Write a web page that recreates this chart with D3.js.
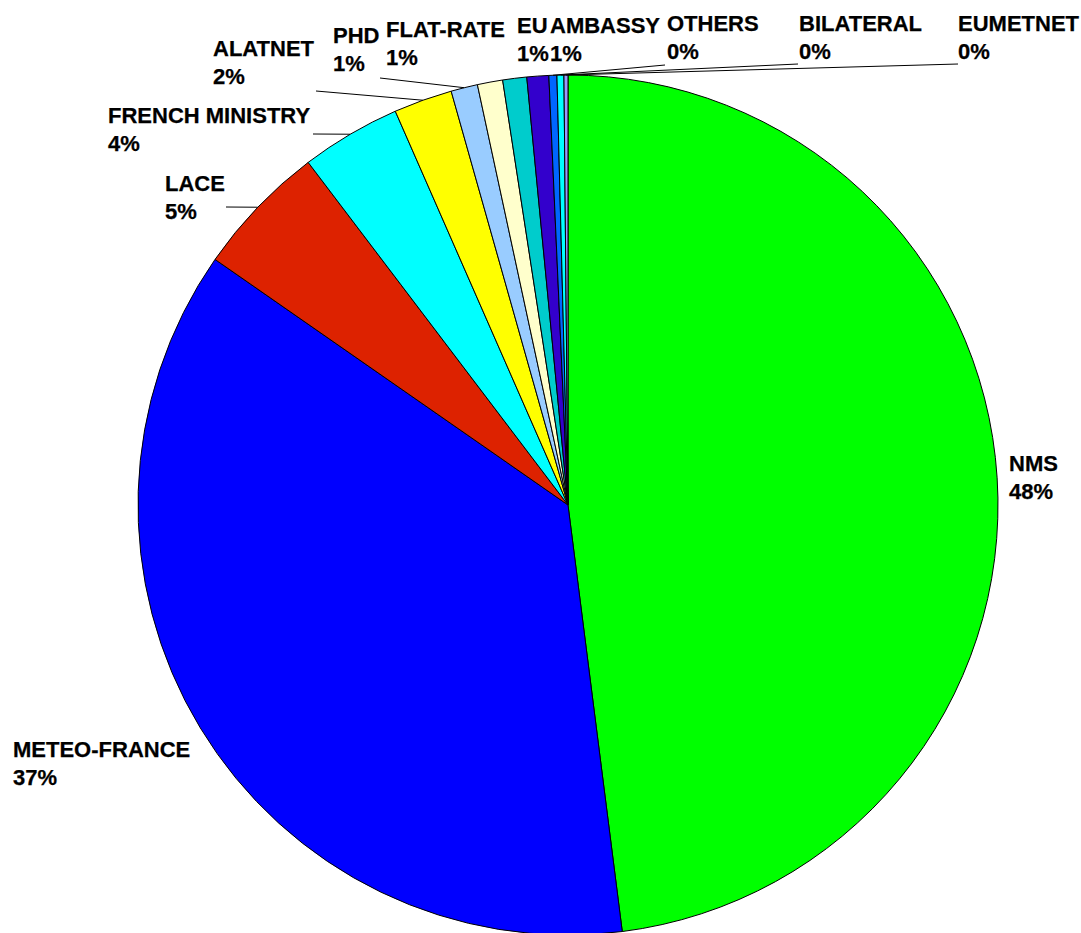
<!DOCTYPE html>
<html>
<head>
<meta charset="utf-8">
<script src="https://cdn.jsdelivr.net/npm/d3@7/dist/d3.min.js"></script>
<style>
  html, body { margin: 0; padding: 0; background: #ffffff; }
  svg { display: block; }
  text { font-family: "Liberation Sans", Arial, sans-serif; font-weight: bold; font-size: 22px; fill: #000; stroke: #000; stroke-width: 0.25px; }
</style>
</head>
<body>
<svg id="chart" width="1081" height="933"></svg>
<script>
// ---- data ----
const categories = ["NMS", "METEO-FRANCE", "LACE", "FRENCH MINISTRY", "ALATNET", "PHD",
                    "FLAT-RATE", "EU", "AMBASSY", "OTHERS", "BILATERAL", "EUMETNET"];
const values = [48.0, 36.7, 5.0, 3.75, 2.2, 1.0, 0.95, 0.9, 0.82, 0.3, 0.26, 0.15];
const colors = ["#00ff00", "#0000ff", "#dd2200", "#00ffff", "#ffff00", "#99ccff",
                "#ffffcc", "#00cccc", "#3300cc", "#0066ff", "#00ffff", "#9999ff"];

// ---- layout (label anchors: left x, first baseline; optional leader start) ----
const labelLayout = [
  { x: 1009, y: 471 },
  { x: 13,   y: 757 },
  { x: 165,  y: 191, lx: 226, ly: 207 },
  { x: 108,  y: 123, lx: 313, ly: 134 },
  { x: 213,  y: 56,  lx: 316, ly: 91 },
  { x: 333,  y: 43,  lx: 380, ly: 78 },
  { x: 386,  y: 37 },
  { x: 517,  y: 33 },
  { x: 550,  y: 33 },
  { x: 667,  y: 31,  lx: 665, ly: 65 },
  { x: 799,  y: 31,  lx: 798, ly: 64 },
  { x: 958,  y: 31,  lx: 958, ly: 64 }
];
const lineGap = 28;

const cx = 568, cy = 505, r = 430;

const svg = d3.select("#chart");
const g = svg.append("g").attr("transform", `translate(${cx},${cy})`);

const data = categories.map((c, i) => ({ name: c, value: values[i], color: colors[i], i }));
const total = d3.sum(values);

const pie = d3.pie().value(d => d.value).sort(null);
const arcs = pie(data);
const arc = d3.arc().innerRadius(0).outerRadius(r);

g.selectAll("path.slice")
  .data(arcs)
  .enter().append("path")
  .attr("class", "slice")
  .attr("d", arc)
  .attr("fill", d => d.data.color)
  .attr("stroke", "#000")
  .attr("stroke-width", 1)
  .attr("stroke-linejoin", "round");

// leader lines
arcs.forEach(d => {
  const L = labelLayout[d.data.i];
  if (L.lx === undefined) return;
  const mid = (d.startAngle + d.endAngle) / 2;
  const ex = cx + r * Math.sin(mid);
  const ey = cy - r * Math.cos(mid);
  svg.append("line")
    .attr("x1", L.lx).attr("y1", L.ly)
    .attr("x2", ex).attr("y2", ey)
    .attr("stroke", "#000").attr("stroke-width", 1);
});

// labels
arcs.forEach(d => {
  const L = labelLayout[d.data.i];
  const pct = Math.round(d.data.value / total * 100) + "%";
  const t = svg.append("text").attr("x", L.x).attr("y", L.y);
  t.append("tspan").attr("x", L.x).attr("y", L.y).text(d.data.name);
  t.append("tspan").attr("x", L.x).attr("y", L.y + lineGap).text(pct);
});
</script>
</body>
</html>
